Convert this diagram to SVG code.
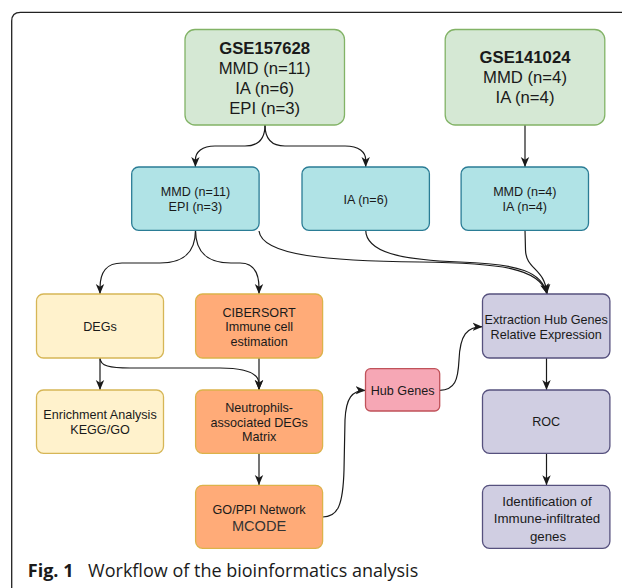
<svg xmlns="http://www.w3.org/2000/svg" width="622" height="588" viewBox="0 0 622 588">
<defs>
<style>
.t{font-family:"Liberation Sans",Arial,sans-serif;fill:#1a1a1a;text-anchor:middle}
.big{font-size:16.7px}
.sm{font-size:12.6px}
.green{fill:#d5e8d4;stroke:#82b366;stroke-width:1.3}
.blue{fill:#b0e3e6;stroke:#2a7c95;stroke-width:1.3}
.yellow{fill:#fff2cc;stroke:#d6b656;stroke-width:1.3}
.orange{fill:#ffab78;stroke:#dcb24a;stroke-width:1.3}
.pink{fill:#f6a7b5;stroke:#c0525a;stroke-width:1.3}
.purple{fill:#d0cee2;stroke:#56517e;stroke-width:1.3}
.edge{fill:none;stroke:#1a1a1a;stroke-width:1.2;marker-end:url(#arr)}
.cap{font-family:"Open Sans","Liberation Sans",sans-serif;font-size:18px;fill:#1a1a1a}
</style>
<marker id="arr" markerUnits="userSpaceOnUse" markerWidth="10" markerHeight="10" viewBox="0 0 10 10" refX="10" refY="5" orient="auto">
<path d="M0,0.8 L10,5 L0,9.2 L2.8,5 z" fill="#1a1a1a"/>
</marker>
</defs>
<rect width="622" height="588" fill="#ffffff"/>
<path d="M11.7,588 L11.7,21 Q11.7,12.3 20.5,12.3 L622,12.3" fill="none" stroke="#222" stroke-width="1.3"/>

<g id="connectors">
<path class="edge" d="M265,125 C265,140 258,146 245,146 L215,146 C202,146 195.4,152 195.4,160 L195.4,167"/>
<path class="edge" d="M265,125 C265,140 272,146 285,146 L345,146 C359,146 365.7,152 365.7,160 L365.7,167"/>
<path class="edge" d="M525,125 L525,167"/>
<path class="edge" d="M195.5,230 C195.5,256 180,263 160,263 L122,263 C106,263 100,272 100,288 L100,294"/>
<path class="edge" d="M195.5,230 C195.5,256 211,263 231,263 L240,263 C253,263 259,272 259,288 L259,294"/>
<path class="edge" d="M259,231 C262,256 330,261 420,262 C500,263 540,268 547,294"/>
<path class="edge" d="M365.7,230 C366,252 400,260 460,262 C520,264 542,272 547,294"/>
<path class="edge" d="M525,230 L525.5,250 C526,270 545,268 547,294"/>
<path class="edge" d="M100,358 L100,390"/>
<path class="edge" d="M100,358 C100,366 110,368 130,368 L220,368 C250,368 259,375 259,384 L259,390"/>
<path class="edge" d="M259,358 L259,390"/>
<path class="edge" d="M259,453 L259,485"/>
<path class="edge" d="M322.6,517 C338,517 343,505 344,470 L345,420 C346,398 352,390.3 365.5,390.3"/>
<path class="edge" d="M439.7,390.3 C455,390 458,380 459,360 C460,335 467,326.7 482.5,326.7"/>
<path class="edge" d="M546.5,358 L546.5,390"/>
<path class="edge" d="M546.5,453.3 L546.5,485.3"/>
</g>

<g id="gse157628">
<rect class="green" x="185" y="29.5" width="159.5" height="95.5" rx="10"/>
<text class="t big" x="264.7" y="53.6" font-weight="bold">GSE157628</text>
<text class="t big" x="264.7" y="74">MMD (n=11)</text>
<text class="t big" x="264.7" y="94.2">IA (n=6)</text>
<text class="t big" x="264.7" y="114.4">EPI (n=3)</text>
</g>
<g id="gse141024">
<rect class="green" x="445.2" y="29.5" width="159.6" height="95.5" rx="10"/>
<text class="t big" x="525" y="63.2" font-weight="bold">GSE141024</text>
<text class="t big" x="525" y="83.2">MMD (n=4)</text>
<text class="t big" x="525" y="103.2">IA (n=4)</text>
</g>
<g id="mmd-epi">
<rect class="blue" x="131.7" y="167" width="127.4" height="63.3" rx="7"/>
<text class="t sm" x="195.4" y="196.4">MMD (n=11)</text>
<text class="t sm" x="195.4" y="211.1">EPI (n=3)</text>
</g>
<g id="ia">
<rect class="blue" x="302" y="167" width="127.4" height="63.3" rx="7"/>
<text class="t sm" x="365.7" y="203.7">IA (n=6)</text>
</g>
<g id="mmd-ia">
<rect class="blue" x="461.1" y="167" width="127.4" height="63.3" rx="7"/>
<text class="t sm" x="524.8" y="196.4">MMD (n=4)</text>
<text class="t sm" x="524.8" y="211.1">IA (n=4)</text>
</g>
<g id="degs">
<rect class="yellow" x="36.5" y="294" width="127" height="64" rx="7"/>
<text class="t sm" x="100" y="331.1">DEGs</text>
</g>
<g id="cibersort">
<rect class="orange" x="195.6" y="294" width="127" height="64" rx="7"/>
<text class="t sm" x="259.1" y="316.5">CIBERSORT</text>
<text class="t sm" x="259.1" y="331.2">Immune cell</text>
<text class="t sm" x="259.1" y="345.9">estimation</text>
</g>
<g id="enrichment">
<rect class="yellow" x="36.5" y="390" width="127" height="63.3" rx="7"/>
<text class="t sm" x="100" y="419.4">Enrichment Analysis</text>
<text class="t sm" x="100" y="434.1">KEGG/GO</text>
</g>
<g id="neutrophils">
<rect class="orange" x="195.6" y="390" width="127" height="63.3" rx="7"/>
<text class="t sm" x="259.1" y="412.1">Neutrophils-</text>
<text class="t sm" x="259.1" y="426.7">associated DEGs</text>
<text class="t sm" x="259.1" y="441.4">Matrix</text>
</g>
<g id="goppi">
<rect class="orange" x="195.6" y="485.3" width="127" height="63" rx="7"/>
<text class="t sm" x="259.1" y="513.7">GO/PPI Network</text>
<text class="t" x="259.1" y="530.8" font-size="14.6" style="fill:#333">MCODE</text>
</g>
<g id="hub-genes">
<rect class="pink" x="365.5" y="368.7" width="74.2" height="42.3" rx="5"/>
<text class="t sm" x="402.6" y="394.7">Hub Genes</text>
</g>
<g id="extraction">
<rect class="purple" x="482.5" y="294" width="127.4" height="64" rx="7"/>
<text class="t sm" x="546.2" y="324.1">Extraction Hub Genes</text>
<text class="t sm" x="546.2" y="338.7">Relative Expression</text>
</g>
<g id="roc">
<rect class="purple" x="482.5" y="390" width="127.4" height="63.3" rx="7"/>
<text class="t sm" x="546.2" y="426.4">ROC</text>
</g>
<g id="identification">
<rect class="purple" x="482.5" y="485.3" width="127.4" height="63" rx="7"/>
<text class="t" font-size="13.3" x="547" y="506">Identification of</text>
<text class="t" font-size="13.3" x="547" y="523.4">Immune-infiltrated</text>
<text class="t" font-size="13.3" x="548" y="540.7">genes</text>
</g>

<text class="cap" x="27.8" y="576.5" font-weight="bold">Fig. 1</text>
<text class="cap" x="88.1" y="576.5">Workflow of the bioinformatics analysis</text>
</svg>
